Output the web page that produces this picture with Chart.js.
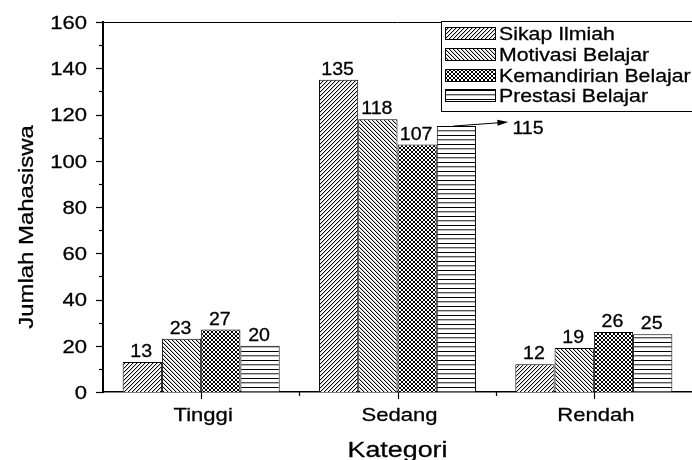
<!DOCTYPE html>
<html><head><meta charset="utf-8">
<script src="https://cdn.jsdelivr.net/npm/chart.js@4.4.0/dist/chart.umd.min.js"></script>
<style>html,body{margin:0;padding:0;background:#fff}canvas{display:block}</style>
</head><body>
<canvas id="c" width="692" height="460"></canvas>
<script>
// ---- data ----
const categories = ['Tinggi', 'Sedang', 'Rendah'];
const seriesNames = ['Sikap Ilmiah', 'Motivasi Belajar', 'Kemandirian Belajar', 'Prestasi Belajar'];
const sikapIlmiah = [13, 135, 12];
const motivasiBelajar = [23, 118, 19];
const kemandirianBelajar = [27, 107, 26];
const prestasiBelajar = [20, 115, 25];
const yTickValues = [0, 20, 40, 60, 80, 100, 120, 140, 160];
const xTitle = 'Kategori';
const yTitle = 'Jumlah Mahasiswa';

const FONT = '"Liberation Sans", Arial, Helvetica, sans-serif';

function sText(ctx, txt, x, y, size, align, sx) {
  ctx.save();
  ctx.font = size + 'px ' + FONT;
  ctx.textBaseline = 'alphabetic';
  ctx.textAlign = 'left';
  const w = ctx.measureText(txt).width * sx;
  let left = x;
  if (align === 'center') left = x - w / 2;
  else if (align === 'right') left = x - w;
  ctx.translate(left, y);
  ctx.scale(sx, 1);
  ctx.fillStyle = '#000';
  ctx.strokeStyle = '#000';
  ctx.lineWidth = 0.3;
  ctx.lineJoin = 'round';
  ctx.fillText(txt, 0, 0);
  ctx.strokeText(txt, 0, 0);
  ctx.restore();
}

function makePattern(kind) {
  const c = document.createElement('canvas');
  const x = c.getContext('2d');
  if (kind === 'h') {
    c.width = 4; c.height = 9;
    x.fillStyle = '#fff'; x.fillRect(0, 0, 4, 9);
    x.fillStyle = '#000'; x.fillRect(0, 0, 4, 1);
    x.fillStyle = '#555'; x.fillRect(0, 4, 4, 1);
    x.fillStyle = '#bbb'; x.fillRect(0, 5, 4, 1);
  } else {
    c.width = 4; c.height = 4;
    x.fillStyle = '#fff'; x.fillRect(0, 0, 4, 4);
    for (let i = 0; i < 4; i++) {
      if (kind === 'f' || kind === 'x') { x.fillStyle = '#000'; x.fillRect(i, 3 - i, 1, 1); }
      if (kind === 'b' || kind === 'x') { x.fillStyle = '#000'; x.fillRect(i, i, 1, 1); }
    }
    if (kind === 'f') { for (let i = 0; i < 4; i++) { x.fillStyle = '#c8c8c8'; x.fillRect((i + 1) % 4, 3 - i, 1, 1); } }
    if (kind === 'b') { for (let i = 0; i < 4; i++) { x.fillStyle = '#c8c8c8'; x.fillRect((i + 1) % 4, i, 1, 1); } }
  }
  return document.getElementById('c').getContext('2d').createPattern(c, 'repeat');
}

const patterns = [makePattern('f'), makePattern('b'), makePattern('x'), makePattern('h')];
const seriesValues = [sikapIlmiah, motivasiBelajar, kemandirianBelajar, prestasiBelajar];

const decorPlugin = {
  id: 'decor',
  beforeDraw(chart) {
    const ctx = chart.ctx;
    ctx.save(); ctx.fillStyle = '#fff'; ctx.fillRect(0, 0, chart.width, chart.height); ctx.restore();
  },
  afterDraw(chart) {
    const ctx = chart.ctx;
    const ca = chart.chartArea;
    const xs = chart.scales.x, ys = chart.scales.y;
    ctx.save();
    ctx.strokeStyle = '#000';
    // top frame line
    ctx.lineWidth = 1;
    ctx.beginPath(); ctx.moveTo(ca.left, ca.top + 0.5); ctx.lineTo(chart.width, ca.top + 0.5); ctx.stroke();
    // y ticks
    ctx.lineWidth = 1.2;
    for (let v = 0; v <= 160; v += 10) {
      const py = Math.round(ys.getPixelForValue(v)) + 0.5;
      const len = (v % 20 === 0) ? 7 : 4;
      ctx.beginPath(); ctx.moveTo(ca.left - len, py); ctx.lineTo(ca.left, py); ctx.stroke();
    }
    // y tick labels
    yTickValues.forEach(v => {
      const py = ys.getPixelForValue(v);
      sText(ctx, String(v), 87, py + 6.8, 19, 'right', 1.16);
    });
    // x ticks
    categories.forEach((c, i) => {
      const px = Math.round(xs.getPixelForValue(i)) + 0.5;
      ctx.beginPath(); ctx.moveTo(px, ca.bottom); ctx.lineTo(px, ca.bottom + 7); ctx.stroke();
      if (i < categories.length - 1) {
        const mx = Math.round(xs.getPixelForValue(i + 0.5)) + 0.5;
        ctx.beginPath(); ctx.moveTo(mx, ca.bottom); ctx.lineTo(mx, ca.bottom + 4); ctx.stroke();
      }
      sText(ctx, c, xs.getPixelForValue(i) + 2, 421, 19, 'center', 1.16);
    });
    // axis titles
    sText(ctx, xTitle, (ca.left + ca.right) / 2, 457, 22, 'center', 1.22);
    ctx.save();
    ctx.translate(33, 227);
    ctx.rotate(-Math.PI / 2);
    sText(ctx, yTitle, 0, 0, 21, 'center', 1.14);
    ctx.restore();
    // value labels
    chart.data.datasets.forEach((ds, di) => {
      const meta = chart.getDatasetMeta(di);
      meta.data.forEach((bar, i) => {
        const val = ds.data[i];
        if (di === 3 && i === 1) {
          const sx = bar.x - 3, sy = bar.y;
          const ex = bar.x + 52, ey = bar.y - 4;
          ctx.lineWidth = 1;
          ctx.beginPath(); ctx.moveTo(sx, sy); ctx.lineTo(ex - 8, ey + 0.6); ctx.stroke();
          const ang = Math.atan2(ey - sy, ex - sx);
          ctx.beginPath();
          ctx.moveTo(ex, ey);
          ctx.lineTo(ex - 11 * Math.cos(ang) + 3 * Math.sin(ang), ey - 11 * Math.sin(ang) - 3 * Math.cos(ang));
          ctx.lineTo(ex - 11 * Math.cos(ang) - 3 * Math.sin(ang), ey - 11 * Math.sin(ang) + 3 * Math.cos(ang));
          ctx.closePath(); ctx.fillStyle = '#000'; ctx.fill();
          sText(ctx, String(val), ex + 4, bar.y + 8, 17.5, 'left', 1.12);
        } else {
          sText(ctx, String(val), bar.x - 1, bar.y - 5, 17.5, 'center', 1.12);
        }
      });
    });
    // legend
    const lx = 441, ly = 21, lb = 111;
    ctx.fillStyle = '#fff';
    ctx.fillRect(lx, ly, chart.width - lx, lb - ly);
    ctx.lineWidth = 1;
    ctx.strokeStyle = '#000';
    ctx.strokeRect(lx + 0.5, ly + 0.5, chart.width + 10 - lx, lb - ly);
    const rows = [33, 54.5, 75, 95.5];
    chart.data.datasets.forEach((ds, di) => {
      const cy = rows[di];
      ctx.fillStyle = patterns[di];
      ctx.fillRect(445, Math.round(cy - 6.5), 51, 13);
      ctx.strokeStyle = '#000';
      ctx.strokeRect(445.5, Math.round(cy - 6.5) + 0.5, 50, 12);
      sText(ctx, ds.label, 499, cy + 6.8, 19, 'left', 1.12);
    });
    ctx.restore();
  }
};

const datasets = seriesNames.map((name, i) => ({
  label: name,
  data: seriesValues[i],
  backgroundColor: patterns[i],
  borderColor: '#000',
  borderWidth: 1,
  barPercentage: 1.0,
  categoryPercentage: 0.8
}));

new Chart(document.getElementById('c'), {
  type: 'bar',
  data: { labels: categories, datasets },
  options: {
    responsive: false,
    animation: false,
    devicePixelRatio: 1,
    layout: { padding: { left: 0, right: -11, top: 22, bottom: 0 } },
    plugins: { legend: { display: false }, tooltip: { enabled: false } },
    scales: {
      x: {
        offset: true,
        grid: { display: false },
        border: { display: true, color: '#000', width: 1.5 },
        ticks: { display: false },
        afterFit(s) { s.height = 68; }
      },
      y: {
        min: 0, max: 160,
        ticks: { display: false, stepSize: 20 },
        grid: { display: false },
        border: { display: true, color: '#000', width: 2 },
        afterFit(s) { s.width = 103; }
      }
    }
  },
  plugins: [decorPlugin]
});
</script>
</body></html>
